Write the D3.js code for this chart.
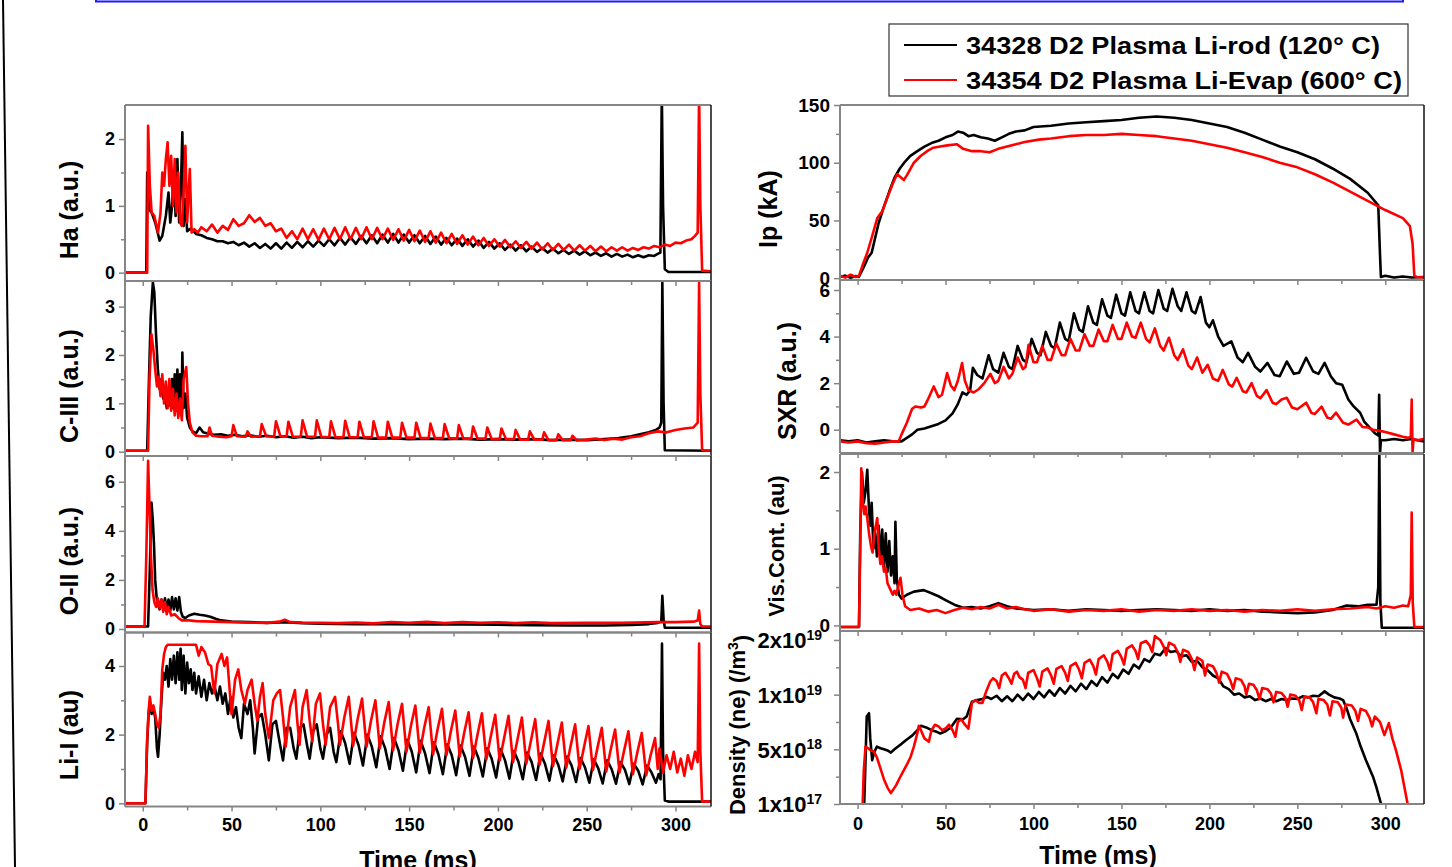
<!DOCTYPE html>
<html>
<head>
<meta charset="utf-8">
<script src="https://cdn.jsdelivr.net/npm/d3@7"></script>
<style>
  body { margin: 0; background: #fff; }
  svg { display: block; font-family: "Liberation Sans", Arial, sans-serif; font-weight: bold; }
</style>
</head>
<body>
<svg id="chart" width="1452" height="867"></svg>
<script>
// ---- data (time in ms) ----
const timeTicks = [0, 50, 100, 150, 200, 250, 300];
const timeMinor = [25, 75, 125, 175, 225, 275];
const legendLabels = ["34328 D2 Plasma Li-rod (120\u00b0 C)", "34354 D2 Plasma Li-Evap (600\u00b0 C)"];
const legendWidths = [414, 436];
const seriesColors = ["#000000", "#ff0000"];

const haBlack = [[-10,0],[2,0],[2.5,1.5],[3.5,0.95],[5,0.9],[7,0.75],[9.5,0.48],[11,0.55],[13,0.85],[14.5,1.2],[15.5,0.75],[16.5,1.0],[17.5,1.5],[18.5,0.85],[19.5,1.7],[20.5,0.75],[21.5,1.3],[22.3,2.1],[23,0.7],[24,1.1],[25,0.62],[27,0.66],[30,0.58],[33,0.56],[36,0.52],[39,0.5],[42,0.47],[45,0.47],[48,0.44],[51,0.46],[54,0.41],[57,0.45],[60,0.39],[63,0.44],[66,0.37],[69,0.43],[72,0.36],[75,0.44],[78,0.36],[81,0.45],[84,0.37],[87,0.46],[90,0.38],[93,0.47],[96,0.39],[99,0.48],[102,0.4],[105,0.5],[108,0.41],[111,0.52],[114,0.42],[117,0.53],[120,0.43],[123,0.55],[126,0.44],[129,0.56],[132,0.44],[135,0.57],[138,0.45],[141,0.58],[144,0.45],[147,0.57],[150,0.45],[153,0.56],[156,0.44],[159,0.55],[162,0.43],[165,0.54],[168,0.42],[171,0.52],[174,0.41],[177,0.51],[180,0.4],[183,0.5],[186,0.39],[189,0.48],[192,0.37],[195,0.46],[198,0.36],[201,0.44],[204,0.34],[207,0.42],[210,0.33],[213,0.41],[216,0.32],[219,0.39],[222,0.31],[225,0.37],[228,0.3],[231,0.36],[234,0.29],[237,0.34],[240,0.28],[243,0.33],[246,0.27],[249,0.32],[252,0.26],[255,0.3],[258,0.25],[261,0.29],[264,0.24],[267,0.28],[270,0.24],[273,0.27],[276,0.23],[279,0.26],[282,0.23],[285,0.26],[288,0.25],[290,0.28],[291.5,0.3],[292.3,2.7],[293,1.0],[294,0.05],[296,0.01],[320,0.01]];
const haRed = [[-10,0],[2.5,0],[3,2.2],[4,1.3],[5,0.9],[6.5,0.85],[8.6,0.6],[10,0.9],[11,1.5],[12,1.3],[13,1.7],[14,1.95],[15,1.3],[16,1.75],[17,1.0],[18,1.7],[19,0.9],[20,1.5],[21,0.75],[22,0.7],[23,1.2],[24,1.9],[25,0.75],[26.5,1.55],[27.5,0.6],[29,0.65],[31,0.6],[33,0.68],[36,0.62],[39,0.72],[42,0.6],[45,0.7],[48,0.64],[51,0.8],[54,0.7],[57,0.74],[60,0.86],[63,0.76],[66,0.82],[69,0.7],[72,0.74],[75,0.62],[78,0.66],[81,0.52],[84,0.62],[87,0.5],[90,0.66],[93,0.5],[96,0.65],[99,0.49],[102,0.66],[105,0.5],[108,0.67],[111,0.5],[114,0.68],[117,0.5],[120,0.67],[123,0.5],[126,0.68],[129,0.5],[132,0.67],[135,0.5],[138,0.66],[141,0.49],[144,0.65],[147,0.48],[150,0.64],[153,0.47],[156,0.63],[159,0.46],[162,0.62],[165,0.45],[168,0.6],[171,0.44],[174,0.58],[177,0.43],[180,0.56],[183,0.42],[186,0.54],[189,0.41],[192,0.52],[195,0.4],[198,0.5],[201,0.39],[204,0.49],[207,0.38],[210,0.47],[213,0.37],[216,0.46],[219,0.36],[222,0.45],[225,0.35],[228,0.44],[231,0.34],[234,0.43],[237,0.34],[240,0.42],[243,0.33],[246,0.41],[249,0.33],[252,0.4],[255,0.32],[258,0.39],[261,0.32],[264,0.38],[267,0.33],[270,0.38],[273,0.33],[276,0.37],[279,0.34],[282,0.38],[285,0.36],[288,0.4],[291,0.38],[294,0.42],[297,0.4],[300,0.45],[303,0.44],[306,0.48],[309,0.5],[311,0.55],[312.5,0.6],[313.3,2.7],[314,1.0],[315,0.03],[320,0.02]];

const c3Black = [[-10,0.02],[2.5,0.02],[3.5,1.5],[4.5,2.8],[5.7,3.5],[6.5,3.3],[7.5,2.4],[8.5,1.7],[9.5,1.3],[10.5,1.5],[11.5,1.1],[12.5,1.3],[13.5,0.9],[14.5,1.2],[15.5,0.95],[16.5,1.5],[17.2,0.9],[18,1.6],[18.8,0.85],[19.5,1.7],[20.3,0.8],[21,1.6],[21.8,0.75],[22.3,2.05],[23,0.9],[24,1.2],[25,0.7],[26.5,0.5],[28,0.42],[30,0.38],[32,0.5],[34,0.4],[37,0.37],[40,0.35],[44,0.36],[48,0.33],[52,0.35],[56,0.32],[60,0.34],[65,0.31],[70,0.33],[75,0.3],[80,0.32],[85,0.29],[90,0.31],[95,0.28],[100,0.3],[110,0.28],[120,0.29],[130,0.27],[140,0.28],[150,0.26],[160,0.27],[170,0.26],[180,0.27],[190,0.25],[200,0.26],[210,0.25],[220,0.26],[230,0.24],[240,0.25],[250,0.24],[260,0.26],[268,0.28],[275,0.32],[280,0.36],[285,0.4],[289,0.45],[291,0.5],[292,0.6],[292.6,3.5],[293.3,1.0],[294,0.03],[320,0.02]];
const c3Red = [[-10,0.02],[3,0.02],[3.8,1.5],[4.9,2.43],[6,2.1],[7,1.7],[8,1.35],[9,1.55],[10,1.15],[11,1.6],[12,1.0],[13,1.45],[14,0.9],[15,1.5],[16,0.85],[17,1.3],[18,0.75],[19,1.2],[20,0.7],[21,1.1],[22,0.65],[23,1.5],[24.5,1.75],[25.5,1.0],[26.5,0.6],[28,0.4],[30,0.33],[33,0.32],[36.5,0.32],[37.6,0.5],[39,0.33],[43,0.31],[47,0.3],[50,0.32],[51,0.55],[53,0.32],[58,0.31],[59,0.42],[61,0.31],[66,0.32],[67,0.57],[69.5,0.32],[74,0.31],[75,0.63],[77.5,0.32],[81,0.31],[82,0.62],[84.5,0.31],[89,0.31],[90,0.65],[92.5,0.31],[97,0.31],[98,0.65],[100.5,0.31],[105,0.3],[106,0.63],[108.5,0.3],[113,0.3],[114,0.64],[116.5,0.3],[121,0.3],[122,0.62],[124.5,0.3],[129,0.3],[130,0.63],[132.5,0.29],[137,0.29],[138,0.62],[140.5,0.29],[145,0.29],[146,0.6],[148.5,0.29],[153,0.29],[154,0.6],[156.5,0.28],[161,0.28],[162,0.58],[164.5,0.28],[169,0.28],[170,0.57],[172.5,0.28],[177,0.27],[178,0.55],[180.5,0.27],[185,0.27],[186,0.52],[188.5,0.27],[193,0.27],[194,0.5],[196.5,0.26],[201,0.26],[202,0.48],[204.5,0.26],[209,0.26],[210,0.45],[212.5,0.25],[217,0.25],[218,0.42],[220.5,0.25],[225,0.25],[226,0.4],[228.5,0.24],[233,0.24],[234,0.36],[236.5,0.24],[241,0.24],[242,0.33],[244.5,0.23],[250,0.25],[255,0.27],[260,0.24],[265,0.27],[270,0.25],[275,0.3],[280,0.32],[285,0.38],[290,0.42],[295,0.4],[300,0.45],[305,0.48],[310,0.5],[312.5,0.6],[313.3,3.5],[314,1.2],[315,0.03],[320,0.02]];

const o2Black = [[-10,0.1],[3,0.1],[4,2.5],[4.9,5.15],[5.6,4.5],[6.3,3.5],[7,2.0],[7.8,1.3],[8.5,1.0],[9.5,0.8],[10.5,1.2],[11.5,0.85],[12.5,1.25],[13.5,0.8],[14.5,1.2],[15.5,0.75],[16.5,1.3],[17.5,0.8],[18.5,1.25],[19.5,0.75],[20.5,1.3],[21.5,0.7],[22.5,0.5],[24,0.45],[26,0.55],[29,0.62],[32,0.58],[35,0.55],[38,0.5],[41,0.42],[44,0.35],[50,0.3],[60,0.28],[70,0.25],[80,0.28],[90,0.24],[100,0.22],[120,0.2],[140,0.2],[160,0.18],[180,0.18],[200,0.17],[220,0.15],[240,0.14],[260,0.14],[275,0.16],[285,0.2],[290,0.25],[292,0.3],[292.6,1.35],[293.3,0.4],[294,0.05],[320,0.05]];
const o2Red = [[-10,0.1],[1,0.1],[2,3],[3,6.85],[3.8,5.0],[4.6,3.0],[5.5,1.6],[6.5,1.1],[7.5,0.9],[8.5,1.25],[9.5,0.85],[10.5,1.2],[11.5,0.7],[12.5,1.1],[13.5,0.6],[14.5,0.9],[16,0.55],[18,0.6],[20,0.45],[22,0.35],[26,0.35],[30,0.32],[40,0.3],[50,0.28],[60,0.26],[70,0.25],[77,0.3],[80,0.38],[83,0.28],[90,0.26],[100,0.25],[110,0.24],[120,0.26],[130,0.23],[140,0.28],[150,0.25],[160,0.29],[170,0.24],[180,0.28],[190,0.25],[200,0.27],[210,0.24],[220,0.27],[230,0.24],[250,0.25],[270,0.25],[290,0.28],[300,0.28],[310,0.3],[312.5,0.35],[313.3,0.75],[314,0.2],[315,0.1],[320,0.1]];

const liBlack = [[-10,0],[1.5,0],[2.5,1.8],[3.3,2.6],[4,2.9],[5,2.6],[6,2.75],[7,2.5],[8,1.6],[8.6,1.35],[9.5,2.0],[10.5,3.0],[11.5,3.8],[12.5,3.6],[13.5,4.0],[14.5,3.4],[15.5,4.2],[16.5,3.6],[17.5,4.3],[18.5,3.5],[19.5,4.4],[20.5,3.6],[21.3,4.5],[22,3.3],[23,4.3],[24,3.2],[25,4.1],[26,3.5],[27,3.9],[28,3.3],[29,3.8],[30,3.2],[31.5,3.7],[33,3.1],[34.5,3.6],[36,3.0],[37.5,3.5],[39,3.2],[40.5,3.4],[42,3.0],[43.5,3.4],[45,2.9],[46.5,3.2],[48,2.6],[49.5,3.1],[51,2.5],[52.5,2.8],[54,2.2],[55.5,1.9],[57,2.9],[59,2.6],[60.5,3.0],[62,2.2],[63,1.45],[65,2.5],[67,2.6],[69,2.0],[71,1.25],[73,2.3],[75,2.4],[77,1.8],[79,1.25],[81,2.2],[83,2.2],[85,1.6],[86.5,1.3],[88.5,2.2],[90.5,2.3],[92.5,1.7],[94,1.3],[96,2.1],[98,2.3],[100,1.6],[101.5,1.3],[103.5,2.0],[105.5,2.2],[107.5,1.5],
  [109,1.2],[111.5,2.1],[114,1.75],[116.5,1.15],[119,2.05],[121.5,1.7],[124,1.1],[126.5,2.0],[129,1.65],[131.5,1.05],[134,1.95],[136.5,1.6],[139,1.0],[141.5,1.9],[144,1.55],[146.5,0.95],[149,1.85],[151.5,1.5],[154,0.9],[156.5,1.82],[159,1.45],[161.5,0.88],[164,1.78],[166.5,1.42],[169,0.85],[171.5,1.72],[174,1.4],[176.5,0.82],[179,1.68],[181.5,1.35],[184,0.8],[186.5,1.65],[189,1.32],[191.5,0.78],[194,1.6],[196.5,1.3],[199,0.75],[201.5,1.58],[204,1.25],[206.5,0.72],[209,1.52],[211.5,1.22],[214,0.7],[216.5,1.48],[219,1.2],[221.5,0.68],[224,1.45],[226.5,1.15],[229,0.66],[231.5,1.4],[234,1.12],[236.5,0.64],[239,1.36],[241.5,1.1],[244,0.62],[246.5,1.32],[249,1.05],[251.5,0.6],[254,1.28],[256.5,1.02],[259,0.58],[261.5,1.25],[264,1.0],[266.5,0.57],[269,1.2],[271.5,0.98],[274,0.56],[276.5,1.15],[279,0.95],[281.5,0.55],[284,1.1],[286.5,0.9],[289,0.6],[290.5,0.85],[291.6,0.7],[292.4,4.65],[293,1.5],[294,0.08],[296,0.05],[320,0.05]];
const liRed = [[-10,0],[1.5,0],[2.5,1.9],[3.3,2.7],[4,3.1],[5,2.7],[6,2.85],[7,2.6],[8,2.3],[9,2.2],[10,2.6],[11,3.9],[12,4.35],[13,4.55],[14,4.62],[30,4.62],[31.5,4.3],[33,4.55],[35,4.4],[37,4.05],[38.5,4.0],[40.3,3.2],[42,4.05],[44.4,4.35],[46,4.0],[47.5,4.25],[50,2.6],[52,3.6],[53.8,3.9],[55.5,3.3],[57.5,2.9],[59,3.3],[61.3,3.6],[63,2.9],[64.5,2.4],[66,3.1],[67.5,3.5],[69,2.6],[71,1.9],[73.5,3.0],[75.5,3.2],[77.3,3.3],[79,2.5],[80.5,1.65],[83,2.8],[85.7,3.3],[87,2.4],[88.3,1.7],[90,2.8],[92.3,3.3],[94,2.4],[95.5,1.8],[97.5,2.9],[99.8,3.2],[101.5,2.3],[103,1.7],[105.5,2.8],[108.3,3.1],[110,2.3],
  [111,1.7],[113.5,2.5],[116,3.1],[118.5,1.68],[121,2.45],[123.5,3.05],[126,1.65],[128.5,2.4],[131,3.0],[133.5,1.6],[136,2.35],[138.5,2.95],[141,1.55],[143.5,2.3],[146,2.9],[148.5,1.5],[151,2.25],[153.5,2.85],[156,1.47],[158.5,2.2],[161,2.8],[163.5,1.43],[166,2.15],[168.5,2.75],[171,1.4],[173.5,2.1],[176,2.7],[178.5,1.36],[181,2.05],[183.5,2.65],[186,1.32],[188.5,2.0],[191,2.62],[193.5,1.28],[196,1.95],[198.5,2.58],[201,1.25],[203.5,1.9],[206,2.55],[208.5,1.2],[211,1.85],[213.5,2.5],[216,1.16],[218.5,1.8],[221,2.45],[223.5,1.12],[226,1.76],[228.5,2.4],[231,1.08],[233.5,1.72],[236,2.35],[238.5,1.04],[241,1.68],[243.5,2.3],[246,1.0],[248.5,1.64],[251,2.25],[253.5,0.97],[256,1.6],[258.5,2.2],[261,0.93],[263.5,1.56],[266,2.15],[268.5,0.9],[271,1.52],[273.5,2.1],[276,0.85],[278.5,1.48],[281,2.05],[283.5,0.82],[286,1.4],[288.5,1.9],[290,1.0],[291,1.6],[293,0.9],[295,1.4],[297,1.0],[299,1.5],[301,0.9],[303,1.3],[305,0.8],[307,1.4],[309,1.0],[311,1.5],[312.5,1.2],[313.3,4.65],[314,1.5],[315,0.05],[320,0.05]];

const ipBlack = [[-10,1],[-7,2.2],[-4,0.4],[-1,1.8],[0.7,1],[3,8],[6,18],[8,22],[10,35],[12,48],[15,62],[18,75],[21,87],[24,95],[27,101],[30,106],[34,110],[38,114],[42,117],[46,119],[50,122],[54,124],[57,127],[60,126],[63,123],[66,124],[70,122],[74,121],[78,119],[82,122],[86,125],[90,127],[95,128],[100,131],[110,132],[120,134],[130,135],[140,136],[150,137],[160,139],[170,140],[180,139],[190,137],[200,134],[210,131],[220,126],[230,120],[240,114],[250,109],[260,103],[270,95],[280,86],[290,74],[296,63],[297,20],[297.5,1],[300,2],[305,0.5],[310,1.5],[315,0.5],[322,1]];
const ipRed = [[-10,2],[-7,0.5],[-4,3],[-1,1],[0.8,2],[3,12],[5.5,22],[8,35],[11.2,52],[14,58],[17,70],[20,82],[22.5,90],[24,88],[26.3,85],[28,89],[32,100],[36,106],[39.5,110],[43,113],[47,114],[51,115],[56.5,116],[60,112],[65,110],[70,110],[75,109],[80,112],[85,114],[90,116],[95,118],[103,120],[110,121],[120,123],[130,124],[140,124],[150,125],[160,124],[170,123],[180,121],[190,119],[200,116],[210,113],[220,109],[230,105],[240,100],[250,96],[260,90],[270,83],[280,75],[290,67],[300,59],[310,52],[314,45],[315.5,30],[316.5,2],[318,1],[322,0.5]];

const sxrBlack = [[-10,-0.45],[-5,-0.5],[0,-0.45],[5,-0.55],[10,-0.5],[15,-0.45],[20,-0.5],[25,-0.5],[28,-0.35],[31,-0.2],[34,0],[38,0.05],[42,0.15],[46,0.25],[50,0.4],[54,0.7],[57,1.1],[59.6,1.6],[62,1.5],[64,1.7],[65.5,2.66],[68,2.35],[71,2.2],[74.5,3.2],[77,2.6],[80,2.45],[83,3.3],[86,2.7],[88,2.6],[91,3.6],[94,3.0],[96,2.9],[99,3.9],[102,3.3],[104,3.2],[107,4.2],[110,3.6],[112,3.5],[115,4.6],[118,3.9],[120,3.8],[123,5.0],[126,4.3],[128,4.2],[131,5.3],[134,4.6],[136,4.5],[139,5.6],[142,4.9],[144,4.8],[147,5.8],[150,5.0],[152,4.9],[155,5.9],[158,5.1],[160,5.0],[163,5.9],[166,5.1],[168,5.0],[171,6.0],[174,5.2],[176,5.1],[179,6.05],[182,5.3],[184,5.1],[187,5.9],[190,5.1],[192,5.0],[195,5.7],[198,4.6],[200,4.4],[202,4.7],[205,4.0],[208,3.6],[212.5,3.79],[216,3.1],[219,2.9],[222,3.3],[226,2.7],[229,2.5],[233,2.87],[237,2.35],[240,2.3],[244,2.93],[248,2.4],[251,2.45],[255,3.09],[259,2.5],[262,2.4],[265.5,2.87],[269,2.3],[272,2.0],[275.5,1.93],[279,1.3],[282,1.0],[285.7,0.73],[288,0.35],[291,0.1],[294,-0.15],[296,-0.25],[296.5,1.5],[297,-1.0],[297.5,-0.45],[300,-0.45],[305,-0.4],[310,-0.45],[315,-0.4],[322,-0.5]];
const sxrRed = [[-10,-0.5],[-5,-0.55],[0,-0.5],[5,-0.58],[10,-0.6],[15,-0.55],[20,-0.5],[23.4,-0.5],[25,-0.2],[28,0.3],[31,0.9],[33,1.0],[36,0.95],[38,1.0],[40,1.3],[43.3,1.86],[46,1.4],[48,1.5],[50.9,2.43],[53,1.9],[55,1.7],[57,2.1],[59.4,2.86],[61,2.1],[63,1.7],[66,1.6],[69,1.75],[72,2.0],[75.5,2.4],[78,2.0],[80,2.1],[83,2.7],[86,2.2],[88,2.4],[91,3.1],[94,2.6],[95.5,2.7],[97.2,3.65],[100,2.9],[102,2.9],[105,3.6],[108,3.0],[110,3.0],[113,3.7],[116,3.2],[118,3.2],[121,3.9],[124,3.4],[126,3.4],[129,4.1],[132,3.6],[134,3.6],[137,4.3],[140,3.8],[142,3.8],[145,4.5],[148,3.9],[150,3.9],[153,4.6],[156,4.0],[158,3.95],[161,4.6],[164,3.9],[166,3.75],[169,4.35],[172,3.6],[174,3.4],[177,3.95],[180,3.2],[182,3.0],[185,3.45],[188,2.75],[190,2.6],[193,3.1],[196,2.45],[199,2.79],[202,2.2],[205,2.1],[207.6,2.57],[211,1.95],[213,1.85],[215.5,2.23],[219,1.65],[221,1.6],[224,2.0],[227,1.45],[229,1.35],[232.5,1.7],[236,1.15],[238,1.1],[241,1.3],[244,1.37],[247,0.95],[250,0.88],[255,1.16],[258,0.72],[260,0.68],[263.8,0.99],[267,0.52],[269,0.47],[272,0.73],[276,0.3],[279,0.22],[283.6,0.43],[287,0.12],[290,0.1],[293,0.0],[297,-0.05],[300,-0.1],[305,-0.2],[310,-0.3],[313,-0.35],[314.5,-0.3],[315,1.3],[315.5,-1.0],[316,-0.4],[318,-0.45],[322,-0.4]];

const visBlack = [[-10,-0.02],[0.8,-0.02],[1.5,1.2],[2.5,2.0],[3.5,1.6],[4.5,1.75],[5.5,2.03],[6.5,1.5],[7.3,1.3],[8,1.6],[9,1.0],[10,1.2],[11,0.9],[12,1.3],[13,0.85],[14,1.25],[15,0.75],[16,1.2],[17,0.7],[18,1.1],[19,0.65],[20,0.9],[21,0.55],[21.5,1.35],[22.3,0.6],[23.5,0.4],[25,0.35],[28,0.4],[32,0.44],[37.6,0.46],[42,0.42],[46,0.38],[50,0.33],[55,0.27],[60,0.23],[65,0.24],[70,0.22],[75,0.25],[80,0.29],[85,0.25],[90,0.22],[100,0.2],[110,0.21],[120,0.19],[130,0.21],[140,0.2],[150,0.19],[160,0.2],[170,0.21],[180,0.2],[190,0.19],[200,0.21],[210,0.19],[220,0.2],[230,0.18],[240,0.17],[250,0.16],[260,0.17],[270,0.2],[278,0.26],[285,0.25],[290,0.27],[295,0.27],[296,0.5],[296.6,2.3],[297.2,0.3],[298,-0.03],[322,-0.03]];
const visRed = [[-10,-0.02],[0.8,-0.02],[1.5,1.0],[2.1,2.05],[3,1.6],[3.8,1.45],[4.5,1.55],[5.5,1.4],[6.5,1.2],[7.5,1.05],[8.5,0.95],[9.5,1.2],[11.2,1.4],[12,1.0],[13,0.8],[14,0.9],[15,0.7],[16,0.75],[17,0.55],[18,0.5],[19,0.45],[20,0.4],[21,0.45],[22,0.4],[23.5,0.55],[24.4,0.62],[25.5,0.4],[27,0.25],[30,0.2],[35,0.22],[40,0.18],[45,0.2],[50,0.16],[55,0.2],[60,0.23],[65,0.21],[70,0.24],[75,0.22],[80,0.27],[85,0.22],[90,0.24],[95,0.21],[100,0.19],[110,0.21],[120,0.18],[130,0.2],[140,0.19],[150,0.21],[160,0.18],[170,0.2],[180,0.19],[190,0.21],[200,0.19],[210,0.2],[220,0.18],[230,0.2],[240,0.19],[250,0.21],[260,0.19],[270,0.21],[280,0.22],[285,0.23],[290,0.24],[295,0.22],[300,0.25],[305,0.23],[310,0.26],[313,0.25],[314.5,0.4],[315,1.47],[315.6,0.3],[316.5,-0.02],[322,-0.02]];

// density is drawn on the figure's own (non-uniform) axis: 0 = 1x10^17, 1 = 5x10^18, 2 = 1x10^19, 3 = 2x10^19
const neTickMant = ["1x10", "5x10", "1x10", "2x10"];
const neTickExp = ["17", "18", "19", "19"];
const neBlack = [[-10,-0.3],[3.5,-0.3],[4.5,0.8],[5.2,1.6],[6.5,1.66],[7.2,1.2],[8.3,0.8],[9.5,0.95],[11,1.05],[13,1.02],[15,1.0],[17,0.98],[18.9,0.94],[21,1.0],[23,1.05],[25,1.1],[28,1.18],[31,1.25],[34,1.35],[36,1.43],[39,1.4],[42,1.35],[45,1.32],[47,1.29],[50,1.33],[53,1.4],[56.5,1.56],[60,1.55],[62,1.6],[65,1.87],[68,1.9],[71,1.92],[73.5,1.96],[76,1.92],[79,1.98],[82,1.88],[85,1.97],[88,1.88],[91,2.0],[94,1.9],[97,2.02],[100,1.92],[103,2.05],[106,1.95],[109,2.08],[112,1.98],[115,2.12],[118,2.02],[121,2.16],[124,2.06],[127,2.2],[130,2.1],[133,2.25],[136,2.16],[139,2.32],[142,2.22],[145,2.38],[148,2.3],[151,2.46],[154,2.38],[157,2.55],[160,2.48],[163,2.65],[166,2.6],[169,2.75],[172,2.72],[175,2.85],[178,2.78],[181,2.8],[184,2.7],[187,2.72],[190,2.6],[193,2.62],[196,2.5],[199,2.45],[202,2.35],[205,2.3],[208,2.15],[211,2.1],[214,2.0],[217,2.02],[220,1.95],[223,1.97],[226,1.9],[229,1.93],[232,1.88],[235,1.92],[238,1.88],[241,1.92],[244,1.9],[247,1.93],[250,1.92],[253,1.97],[256,1.95],[259,1.98],[262,1.97],[265.5,2.06],[268,2.0],[271,1.95],[274,1.93],[276,1.9],[278,1.75],[280,1.55],[283.4,1.3],[286,1.05],[289,0.8],[291,0.65],[293,0.5],[295,0.3],[297.6,0],[299,-0.3],[322,-0.3]];
const neRed = [[-10,-0.3],[2.6,-0.3],[3.5,0.6],[4.5,1.05],[6,1.02],[7.5,0.98],[9.3,0.96],[11,0.85],[13,0.65],[15,0.45],[17,0.3],[18.9,0.2],[20,0.25],[22,0.35],[24,0.48],[26,0.6],[28,0.72],[30,0.85],[32,1.05],[34,1.3],[34.8,1.43],[36,1.35],[38,1.2],[40.5,1.14],[42,1.35],[44,1.45],[46,1.42],[48,1.35],[50,1.38],[52,1.45],[54,1.35],[55.6,1.23],[57,1.5],[59,1.55],[61,1.45],[63,1.38],[65,1.85],[67,1.9],[69,1.85],[71,1.85],[73,2.05],[75.4,2.24],[77,2.3],[79,2.25],[80.5,2.12],[82,2.35],[84,2.4],[86,2.3],[87.5,2.2],[89,2.38],[90.6,2.42],[92,2.32],[94,2.27],[95.5,2.12],[97,2.4],[100,2.45],[102,2.3],[103.5,2.15],[105,2.42],[108,2.48],[110,2.35],[111.5,2.2],[113,2.47],[116,2.52],[118,2.4],[119.5,2.25],[121,2.52],[124,2.58],[126,2.45],[127.5,2.3],[129,2.58],[132,2.64],[134,2.52],[135.5,2.37],[137,2.65],[140,2.72],[142,2.6],[143.5,2.45],[145,2.74],[148,2.8],[150,2.68],[151.5,2.55],[153,2.84],[156,2.9],[158,2.8],[159.5,2.65],[161,2.94],[164,2.98],[166,2.9],[167.5,2.78],[169,3.07],[172,3.0],[174,2.88],[175.5,2.72],[177,2.95],[180,2.9],[182,2.78],[183.5,2.6],[185,2.82],[188,2.78],[190,2.65],[191.5,2.45],[193,2.68],[196,2.62],[197.5,2.35],[199,2.55],[202,2.52],[204,2.4],[205.5,2.22],[207,2.42],[210,2.38],[212,2.25],[213.5,2.1],[215,2.3],[218,2.27],[220,2.15],[221,2.0],[222.5,2.2],[225,2.18],[227,2.08],[228.5,1.92],[230,2.12],[233,2.1],[235,2.02],[236.5,1.86],[238,2.05],[241,2.03],[243,1.95],[244.5,1.78],[246,2.0],[249,1.98],[251,1.9],[252.5,1.72],[254,1.96],[257,1.95],[259,1.86],[260.8,1.66],[262,1.92],[265,1.9],[267,1.82],[268.5,1.62],[270,1.88],[273,1.86],[275,1.76],[276,1.58],[277.5,1.82],[281,1.8],[283,1.7],[284.5,1.52],[286,1.74],[289,1.7],[291,1.58],[292.5,1.42],[294,1.6],[297,1.5],[299.5,1.26],[302,1.48],[304,1.2],[306,0.99],[309,0.62],[312.7,0],[314,-0.3],[322,-0.3]];

// ---- layout ----
const svg = d3.select("#chart");
const AXIS = "#858585";
const xLeft = d3.scaleLinear().domain([-10, 320]).range([125, 711]);
const xRight = d3.scaleLinear().domain([-10, 322]).range([840, 1424]);
const num = d3.format("~g");

const panels = [
  { id: "ha", x: xLeft, top: 105, bottom: 281, dom: [-0.125, 2.51], ticks: [0, 1, 2], minor: [0.5, 1.5], label: "Ha (a.u.)", lx: 78, ly: 210, lfs: 25, tfs: 18, data: [haBlack, haRed] },
  { id: "c3", x: xLeft, top: 281, bottom: 456, dom: [-0.089, 3.53], ticks: [0, 1, 2, 3], minor: [0.5, 1.5, 2.5], label: "C-III (a.u.)", lx: 78, ly: 386, lfs: 25, tfs: 18, data: [c3Black, c3Red] },
  { id: "o2", x: xLeft, top: 456, bottom: 632.5, dom: [-0.143, 7.05], ticks: [0, 2, 4, 6], minor: [1, 3, 5], label: "O-II (a.u.)", lx: 78, ly: 561, lfs: 25, tfs: 18, data: [o2Black, o2Red] },
  { id: "li", x: xLeft, top: 632.5, bottom: 806.5, dom: [-0.093, 4.975], ticks: [0, 2, 4], minor: [1, 3], label: "Li-I (au)", lx: 78, ly: 735, lfs: 25, tfs: 18, data: [liBlack, liRed], xLabels: true, xPad: 7 },
  { id: "ip", x: xRight, top: 105, bottom: 280, dom: [-1.6, 150], ticks: [0, 50, 100, 150], minor: [25, 75, 125], label: "Ip (kA)", lx: 777, ly: 209, lfs: 25, tfs: 19, data: [ipBlack, ipRed] },
  { id: "sxr", x: xRight, top: 280, bottom: 453, dom: [-1.0, 6.43], ticks: [0, 2, 4, 6], minor: [1, 3, 5], label: "SXR (a.u.)", lx: 796, ly: 381, lfs: 25, tfs: 19, data: [sxrBlack, sxrRed] },
  { id: "vis", x: xRight, top: 454, bottom: 631, dom: [-0.073, 2.235], ticks: [0, 1, 2], minor: [0.5, 1.5], label: "Vis.Cont. (au)", lx: 784, ly: 546, lfs: 22, tfs: 19, data: [visBlack, visRed] },
  { id: "ne", x: xRight, top: 631, bottom: 804, dom: [0, 3.164], ticks: [0, 1, 2, 3], minor: [0.5, 1.5, 2.5], label: null, lx: 745, ly: 725, lfs: 22, tfs: 22, data: [neBlack, neRed], xLabels: true, xPad: 8, powerLabels: true }
];

function tidy(g, fs) {
  g.select(".domain").remove();
  g.attr("font-family", null).attr("font-size", fs);
  g.selectAll(".tick line").attr("stroke", AXIS).attr("stroke-width", 1.5);
  g.selectAll(".tick text").attr("fill", "#000");
}

panels.forEach(p => {
  const x = p.x;
  const [x0, x1] = x.range();
  const y = d3.scaleLinear().domain(p.dom).range([p.bottom, p.top]);

  svg.append("clipPath").attr("id", "clip-" + p.id)
    .append("rect").attr("x", x0).attr("y", p.top).attr("width", x1 - x0).attr("height", p.bottom - p.top);

  const line = d3.line().x(d => x(d[0])).y(d => y(d[1]));
  svg.append("g").attr("clip-path", `url(#clip-${p.id})`)
    .selectAll("path").data(p.data).join("path")
    .attr("d", d => line(d))
    .attr("fill", "none")
    .attr("stroke", (d, i) => seriesColors[i])
    .attr("stroke-width", 2.6)
    .attr("stroke-linejoin", "round");

  // left axis
  const yAxis = svg.append("g").attr("transform", `translate(${x0},0)`)
    .call(d3.axisLeft(y).tickValues(p.ticks).tickSize(6).tickPadding(p.powerLabels ? 12 : 4).tickFormat(num));
  tidy(yAxis, p.tfs);
  if (p.powerLabels) {
    yAxis.selectAll(".tick text").each(function (d, i) {
      const t = d3.select(this).text("").attr("dy", "0.36em");
      t.append("tspan").text(neTickMant[i]);
      t.append("tspan").attr("dy", "-0.6em").attr("font-size", 14).text(neTickExp[i]);
    });
  }
  const yMinor = svg.append("g").attr("transform", `translate(${x0},0)`)
    .call(d3.axisLeft(y).tickValues(p.minor).tickSize(4).tickFormat(""));
  tidy(yMinor, p.tfs);

  // bottom axis
  const xAxis = svg.append("g").attr("transform", `translate(0,${p.bottom})`)
    .call(d3.axisBottom(x).tickValues(timeTicks).tickSize(5).tickPadding(p.xPad || 3)
      .tickFormat(p.xLabels ? num : ""));
  tidy(xAxis, 18);
  const xMinor = svg.append("g").attr("transform", `translate(0,${p.bottom})`)
    .call(d3.axisBottom(x).tickValues(timeMinor).tickSize(4).tickFormat(""));
  tidy(xMinor, 18);

  // frame
  const frame = svg.append("g").attr("fill", "none");
  frame.append("line").attr("x1", x0).attr("x2", x1).attr("y1", p.top).attr("y2", p.top).attr("stroke", AXIS).attr("stroke-width", 2);
  frame.append("line").attr("x1", x0).attr("x2", x1).attr("y1", p.bottom).attr("y2", p.bottom).attr("stroke", AXIS).attr("stroke-width", 2);
  frame.append("line").attr("x1", x0).attr("x2", x0).attr("y1", p.top).attr("y2", p.bottom).attr("stroke", AXIS).attr("stroke-width", 2);
  frame.append("line").attr("x1", x1).attr("x2", x1).attr("y1", p.top).attr("y2", p.bottom).attr("stroke", "#111").attr("stroke-width", 1.5);

  // y label
  const lab = svg.append("text")
    .attr("transform", `translate(${p.lx},${p.ly}) rotate(-90)`)
    .attr("text-anchor", "middle").attr("font-size", p.lfs);
  if (p.label) {
    lab.text(p.label);
  } else {
    lab.append("tspan").text("Density (ne) (/m");
    lab.append("tspan").attr("dy", "-0.5em").attr("font-size", 14).text("3");
    lab.append("tspan").attr("dy", "0.5em").text(")");
  }
});

// x titles
svg.append("text").attr("x", 418).attr("y", 869).attr("text-anchor", "middle").attr("font-size", 25).text("Time (ms)");
svg.append("text").attr("x", 1098).attr("y", 864).attr("text-anchor", "middle").attr("font-size", 25).text("Time (ms)");

// legend
const legend = svg.append("g");
legend.append("rect").attr("x", 889).attr("y", 24).attr("width", 519).attr("height", 72)
  .attr("fill", "#fff").attr("stroke", "#333").attr("stroke-width", 1.2);
legendLabels.forEach((txt, i) => {
  const cy = 45 + i * 35;
  legend.append("line").attr("x1", 904).attr("x2", 957).attr("y1", cy).attr("y2", cy)
    .attr("stroke", seriesColors[i]).attr("stroke-width", 2);
  legend.append("text").attr("x", 966).attr("y", cy).attr("dy", "0.36em")
    .attr("font-size", 24).attr("textLength", legendWidths[i]).attr("lengthAdjust", "spacingAndGlyphs")
    .text(txt);
});

// page decorations
svg.append("rect").attr("x", 96).attr("y", -6).attr("width", 1307).attr("height", 7.5)
  .attr("fill", "none").attr("stroke", "#1a1aff").attr("stroke-width", 2);
svg.append("line").attr("x1", 3).attr("x2", 15).attr("y1", 0).attr("y2", 867)
  .attr("stroke", "#000").attr("stroke-width", 2);
</script>
</body>
</html>
